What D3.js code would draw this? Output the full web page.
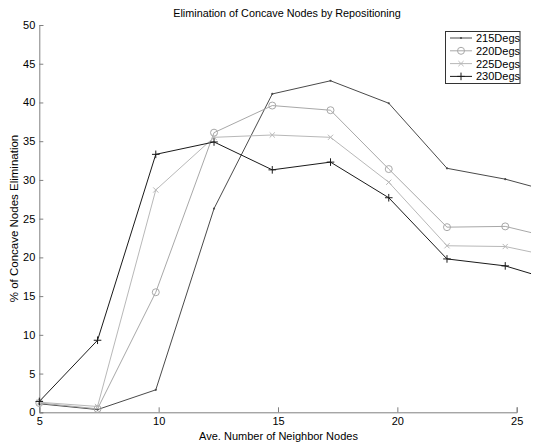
<!DOCTYPE html>
<html><head><meta charset="utf-8">
<script src="https://cdnjs.cloudflare.com/ajax/libs/d3/7.8.5/d3.min.js"></script>
<style>body{margin:0;background:#fff}svg{display:block;font-family:"Liberation Sans",Arial,sans-serif}</style>
</head><body><svg id="c" width="537" height="442"></svg>
<script>
const xValues = [5, 7.44, 9.88, 12.32, 14.76, 17.2, 19.64, 22.08, 24.52, 25.6];
const seriesNames = ["215Degs", "220Degs", "225Degs", "230Degs"];
const s215 = [1.1, 0.35, 2.9, 26.3, 41.1, 42.8, 39.9, 31.5, 30.1, 29.2];
const s220 = [1.2, 0.45, 15.5, 36.1, 39.6, 39.0, 31.4, 23.9, 24.0, 23.2];
const s225 = [1.3, 0.75, 28.7, 35.5, 35.8, 35.5, 29.7, 21.5, 21.4, 20.7];
const s230 = [1.4, 9.3, 33.3, 34.9, 31.3, 32.3, 27.7, 19.8, 18.9, 17.9];
const xTicks = [5, 10, 15, 20, 25];
const yTicks = [0, 5, 10, 15, 20, 25, 30, 35, 40, 45, 50];

const svg = d3.select("#c");
const x = d3.scaleLinear().domain([5, 25]).range([39.3, 516.7]);
const y = d3.scaleLinear().domain([0, 50]).range([412.3, 25]);
const axisColor = "#808080";

const styles = [
  {color: "#4a4a4a", marker: "dot"},
  {color: "#a8a8a8", marker: "circle"},
  {color: "#b8b8b8", marker: "x"},
  {color: "#1a1a1a", marker: "plus"}
];
const allSeries = [s215, s220, s225, s230];

// axes
const gx = svg.append("g").attr("transform", `translate(0,${y(0)})`)
  .call(d3.axisBottom(x).tickValues(xTicks).tickSize(-5).tickPadding(5).tickFormat(d3.format("d")));
const gy = svg.append("g").attr("transform", `translate(${x(5)},0)`)
  .call(d3.axisLeft(y).tickValues(yTicks).tickSize(-4).tickPadding(4).tickFormat(d3.format("d")));
[gx, gy].forEach(g => {
  g.selectAll("path.domain").attr("stroke", axisColor);
  g.selectAll(".tick line").attr("stroke", axisColor);
  g.selectAll(".tick text").attr("fill", "#000").attr("font-size", 11)
    .attr("font-family", '"Liberation Sans",Arial,sans-serif');
});

// lines
const line = d3.line().x((d, i) => x(xValues[i])).y(d => y(d));
function drawMarker(g, type, cx, cy, color) {
  if (type === "dot") {
    g.append("circle").attr("cx", cx).attr("cy", cy).attr("r", 1.1).attr("fill", color);
  } else if (type === "circle") {
    g.append("circle").attr("cx", cx).attr("cy", cy).attr("r", 3.5).attr("fill", "none").attr("stroke", color).attr("stroke-width", 1);
  } else if (type === "x") {
    const r = 2.6;
    g.append("path").attr("d", `M${cx-r},${cy-r}L${cx+r},${cy+r}M${cx-r},${cy+r}L${cx+r},${cy-r}`).attr("stroke", color).attr("stroke-width", 1);
  } else if (type === "plus") {
    const r = 3.8;
    g.append("path").attr("d", `M${cx-r},${cy}L${cx+r},${cy}M${cx},${cy-r}L${cx},${cy+r}`).attr("stroke", color).attr("stroke-width", 1);
  }
}
allSeries.forEach((vals, si) => {
  const st = styles[si];
  const g = svg.append("g");
  g.append("path").attr("d", line(vals)).attr("fill", "none").attr("stroke", st.color).attr("stroke-width", 1);
  vals.forEach((v, i) => {
    if (i < vals.length - 1) drawMarker(g, st.marker, x(xValues[i]), y(v), st.color);
  });
});

// title and axis labels
svg.append("text").attr("x", 287).attr("y", 17).attr("text-anchor", "middle").attr("font-size", 10.8)
  .text("Elimination of Concave Nodes by Repositioning");
svg.append("text").attr("x", 278.5).attr("y", 440).attr("text-anchor", "middle").attr("font-size", 11)
  .text("Ave. Number of Neighbor Nodes");
svg.append("text").attr("transform", "translate(18,218.5) rotate(-90)").attr("text-anchor", "middle").attr("font-size", 11.5)
  .text("% of Concave Nodes Elimination");

// legend
const lg = svg.append("g");
lg.append("rect").attr("x", 445.5).attr("y", 31.5).attr("width", 74.5).attr("height", 52)
  .attr("fill", "#fff").attr("stroke", "#333").attr("stroke-width", 1);
seriesNames.forEach((name, i) => {
  const cy = 38 + i * 12.8;
  const st = styles[i];
  lg.append("line").attr("x1", 450).attr("x2", 472).attr("y1", cy).attr("y2", cy).attr("stroke", st.color).attr("stroke-width", 1);
  drawMarker(lg, st.marker, 461, cy, st.color);
  lg.append("text").attr("x", 476).attr("y", cy + 4).attr("font-size", 11).text(name);
});
</script></body></html>
